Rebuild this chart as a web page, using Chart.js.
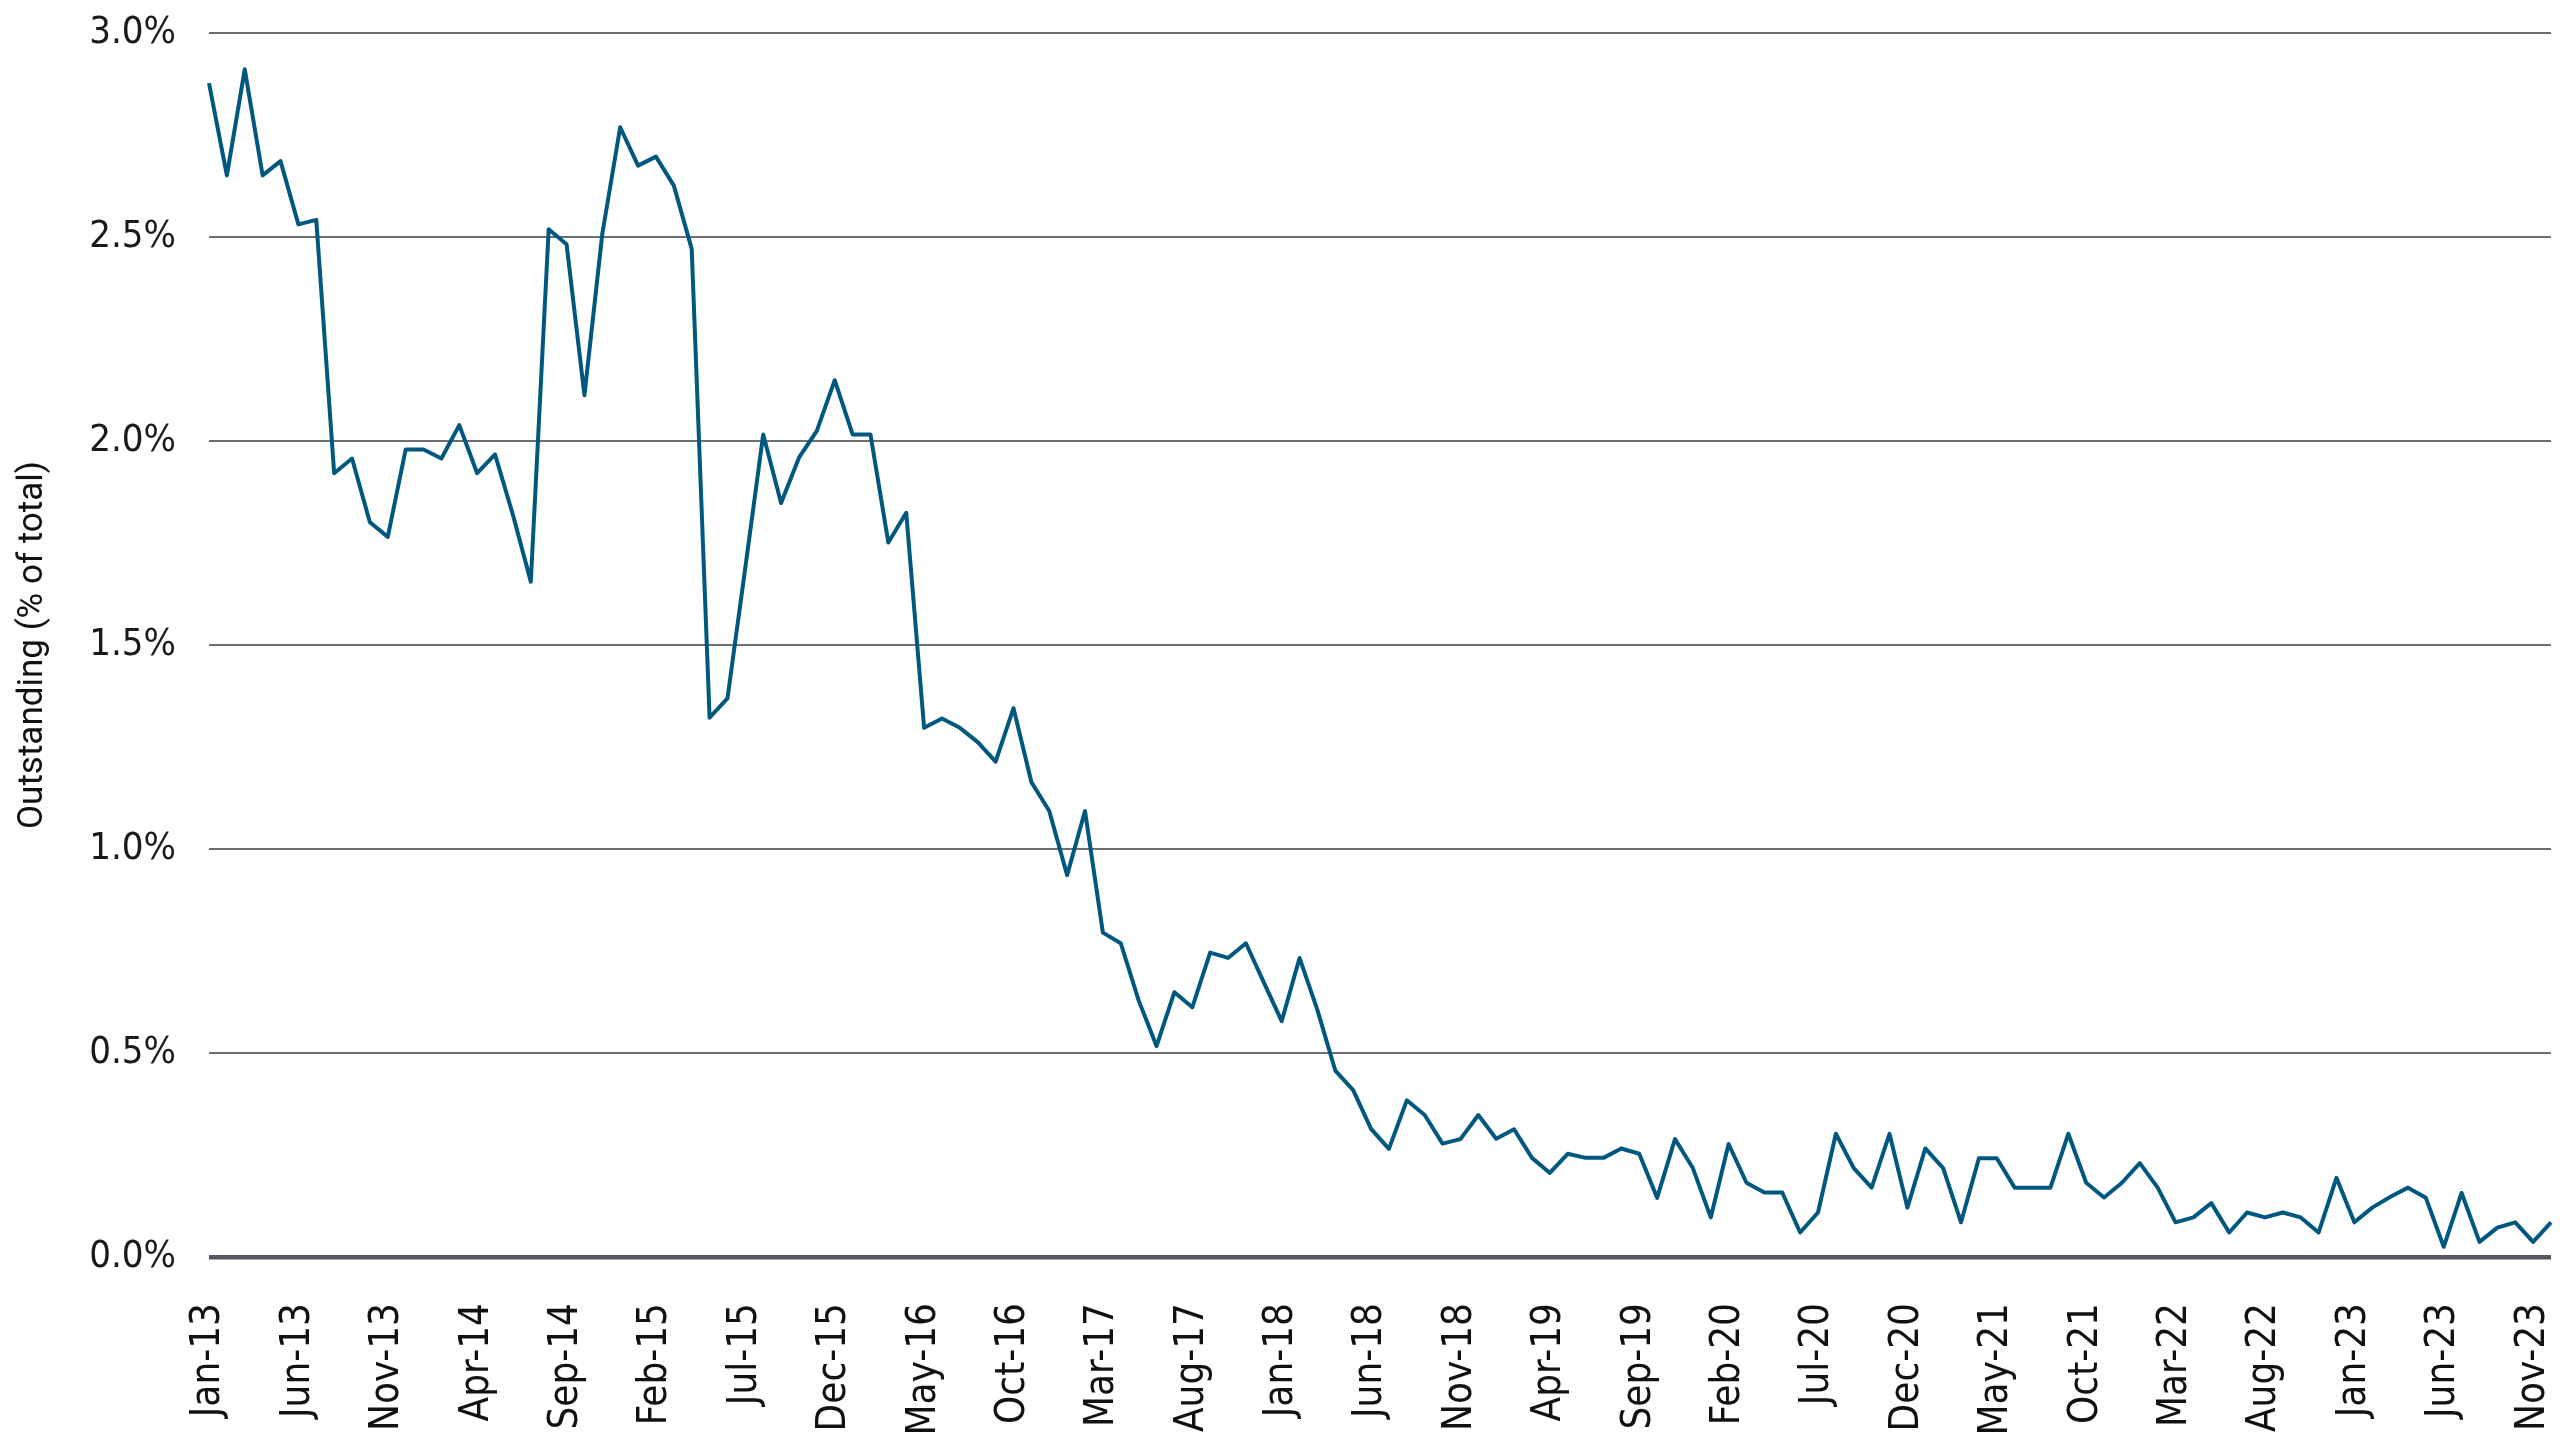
<!DOCTYPE html>
<html>
<head>
<meta charset="utf-8">
<script src="https://cdn.jsdelivr.net/npm/chart.js@4.4.1/dist/chart.umd.min.js"></script>
<style>
  html, body { margin: 0; padding: 0; background: #ffffff; }
  #box { width: 2560px; height: 1440px; position: relative; }
</style>
</head>
<body>
<div id="box"><canvas id="grafico"></canvas></div>
<script>
// monthly series, Jan-13 .. Dec-23
const meses = ["Jan", "Feb", "Mar", "Apr", "May", "Jun", "Jul", "Aug", "Sep", "Oct", "Nov", "Dec"];
const anos = ["13", "14", "15", "16", "17", "18", "19", "20", "21", "22", "23"];

const outstanding = [
    2.877, 2.651, 2.911, 2.651, 2.686, 2.531, 2.542, 1.921, 1.957, 1.801, 1.765, 1.979,
    1.979, 1.957, 2.039, 1.921, 1.967, 1.819, 1.655, 2.519, 2.482, 2.112, 2.508, 2.769,
    2.675, 2.697, 2.626, 2.471, 1.322, 1.369, 1.690, 2.016, 1.848, 1.959, 2.025, 2.149,
    2.016, 2.016, 1.751, 1.824, 1.297, 1.320, 1.297, 1.262, 1.214, 1.345, 1.164, 1.093,
    0.936, 1.093, 0.795, 0.769, 0.629, 0.517, 0.649, 0.612, 0.746, 0.733, 0.769, 0.673,
    0.578, 0.733, 0.605, 0.457, 0.409, 0.314, 0.265, 0.384, 0.348, 0.278, 0.289, 0.348,
    0.290, 0.313, 0.243, 0.206, 0.253, 0.243, 0.243, 0.266, 0.253, 0.145, 0.289, 0.218,
    0.097, 0.277, 0.182, 0.158, 0.158, 0.060, 0.109, 0.302, 0.218, 0.170, 0.302, 0.121,
    0.266, 0.218, 0.085, 0.242, 0.242, 0.170, 0.170, 0.170, 0.302, 0.182, 0.146, 0.182,
    0.230, 0.170, 0.085, 0.097, 0.132, 0.060, 0.109, 0.097, 0.109, 0.097, 0.060, 0.194,
    0.085, 0.121, 0.147, 0.170, 0.145, 0.025, 0.157, 0.037, 0.072, 0.085, 0.037, 0.085
];

const yTicks = [0, 0.5, 1.0, 1.5, 2.0, 2.5, 3.0];
const passoRotulo = 5; // one x label every 5 months

const rotulos = [];
anos.forEach(a => meses.forEach(m => rotulos.push(m + "-" + a)));

const fonteEstreita = "'Liberation Sans Narrow', 'DejaVu Sans Condensed', sans-serif";

const grafico = document.getElementById("grafico");

new Chart(grafico, {
    type: "line",
    data: {
        labels: rotulos,
        datasets: [{
            label: "Outstanding",
            data: outstanding,
            borderColor: "#00587f",
            borderWidth: 4,
            borderJoinStyle: "round",
            pointRadius: 0,
            tension: 0,
            fill: false
        }]
    },
    options: {
        responsive: true,
        maintainAspectRatio: false,
        animation: false,
        devicePixelRatio: 1,
        layout: {
            padding: {top: 33, right: 9, bottom: 0, left: 0}
        },
        plugins: {
            legend: {display: false},
            tooltip: {enabled: false}
        },
        scales: {
            x: {
                offset: false,
                grid: {display: false, drawTicks: false},
                border: {display: false},
                ticks: {
                    autoSkip: false,
                    maxRotation: 90,
                    minRotation: 90,
                    padding: 46,
                    color: "#111111",
                    font: {family: fonteEstreita, size: 40},
                    callback: function (valor, i) {
                        return i % passoRotulo === 0 ? rotulos[i] : "";
                    }
                },
                afterFit: function (escala) {
                    escala.height = 183;
                    escala.paddingLeft = 0;
                    escala.paddingRight = 0;
                }
            },
            y: {
                min: 0,
                max: 3,
                afterBuildTicks: function (escala) {
                    escala.ticks = yTicks.map(v => ({value: v}));
                },
                grid: {
                    drawTicks: false,
                    color: ctx => ctx.tick && ctx.tick.value === 0 ? "#54585e" : "#6c7075",
                    lineWidth: ctx => ctx.tick && ctx.tick.value === 0 ? 4.5 : 2
                },
                border: {display: false},
                ticks: {
                    padding: 33,
                    color: "#1a1a1a",
                    font: {family: fonteEstreita, size: 38},
                    callback: v => v.toFixed(1) + "%"
                },
                title: {
                    display: true,
                    text: "Outstanding (% of total)",
                    color: "#111111",
                    padding: {top: 12, bottom: 0},
                    font: {family: "Roboto, sans-serif", size: 35}
                },
                afterFit: function (escala) {
                    escala.width = 209;
                    escala.paddingTop = 0;
                    escala.paddingBottom = 0;
                }
            }
        }
    }
});
</script>
</body>
</html>
